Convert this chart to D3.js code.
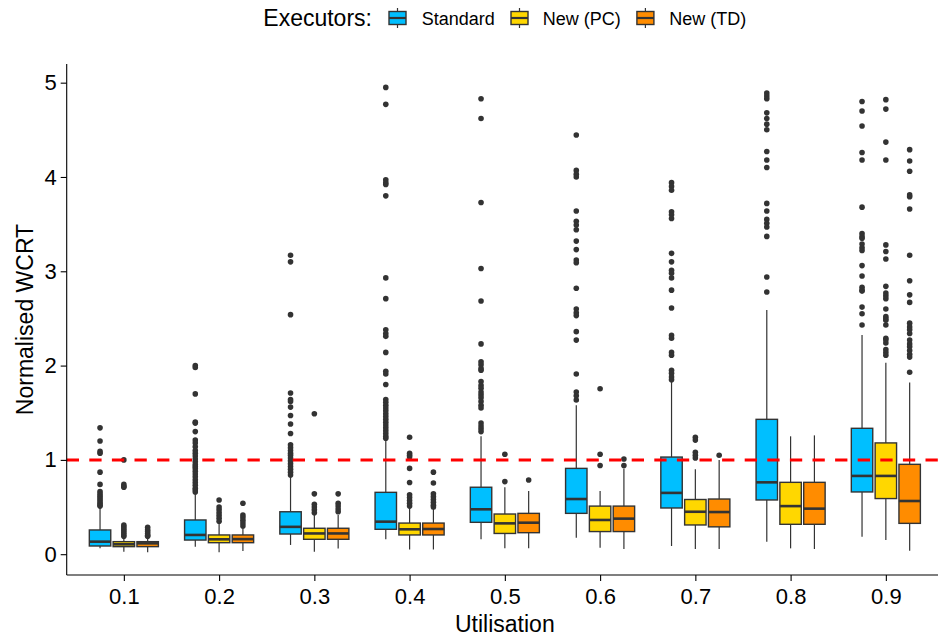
<!DOCTYPE html>
<html><head><meta charset="utf-8">
<script src="https://cdn.jsdelivr.net/npm/d3@7"></script>
<style>
body{margin:0;background:#fff}
svg{display:block}
text{font-family:"Liberation Sans",Arial,Helvetica,sans-serif;fill:#000}
</style>
</head><body>
<svg id="c" width="938" height="637"></svg>
<script>
// ---------- data ----------
const categories = ["0.1","0.2","0.3","0.4","0.5","0.6","0.7","0.8","0.9"];
const executors = ["Standard","New (PC)","New (TD)"];
const executorColors = ["#00BFFF","#FFD700","#FF8C00"];
const yTicks = [0,1,2,3,4,5];
const threshold = 1;

const standardLow    = [0.063,0.080,0.098,0.158,0.158,0.175,0.087,0.133,0.186];
const standardQ1     = [0.087,0.150,0.214,0.264,0.338,0.433,0.490,0.575,0.660];
const standardMedian = [0.133,0.204,0.290,0.345,0.476,0.585,0.650,0.762,0.830];
const standardQ3     = [0.257,0.363,0.450,0.656,0.710,0.910,1.030,1.430,1.335];
const standardHigh   = [0.500,0.640,0.820,1.210,1.250,1.580,1.830,2.590,2.325];
const standardOutliers = [
  [1.34,1.20,1.09,1.07,0.87,0.74,0.665,0.64,0.62,0.60,0.58,0.56,0.54,0.52,0.51],
  [2.00,1.98,1.70,1.40,1.39,1.30,1.21,1.18,1.14,1.10,1.07,1.04,1.01,0.98,0.95,0.93,0.91,0.88,0.85,0.82,0.79,0.76,0.73,0.70,0.68,0.66],
  [3.17,3.10,2.54,1.71,1.64,1.62,1.56,1.47,1.38,1.28,1.16,1.13,1.10,1.07,1.05,1.02,0.99,0.96,0.93,0.90,0.87,0.84],
  [4.95,4.77,3.97,3.94,3.92,3.80,2.93,2.71,2.38,2.34,2.31,2.14,1.94,1.91,1.80,1.64,1.61,1.58,1.55,1.52,1.49,1.46,1.43,1.40,1.37,1.34,1.31,1.28,1.25,1.23],
  [4.83,4.62,3.73,3.03,2.685,2.23,2.04,2.01,1.97,1.95,1.83,1.79,1.76,1.72,1.69,1.66,1.62,1.58,1.55,1.39,1.36,1.33,1.30],
  [4.445,4.07,4.03,4.00,3.64,3.53,3.49,3.44,3.32,3.23,3.12,3.09,2.82,2.60,2.56,2.53,2.36,2.27,1.91,1.72,1.68,1.635],
  [3.94,3.90,3.86,3.63,3.60,3.56,3.19,3.10,3.01,2.98,2.93,2.80,2.61,2.32,2.29,2.14,2.11,1.95,1.92,1.88,1.85],
  [4.89,4.86,4.83,4.68,4.62,4.56,4.50,4.27,4.18,4.10,3.72,3.64,3.55,3.51,3.47,3.37,2.94,2.78],
  [4.80,4.70,4.54,4.26,4.18,3.68,3.40,3.37,3.35,3.29,3.25,3.22,3.06,2.95,2.83,2.80,2.79,2.62,2.55,2.43]
];

const pcLow    = [0.027,0.020,0.027,0.050,0.062,0.069,0.055,0.062,0.150];
const pcQ1     = [0.080,0.122,0.158,0.204,0.220,0.240,0.310,0.317,0.590];
const pcMedian = [0.105,0.158,0.220,0.264,0.327,0.363,0.450,0.510,0.830];
const pcQ3     = [0.133,0.204,0.275,0.330,0.426,0.510,0.580,0.762,1.180];
const pcHigh   = [0.170,0.330,0.415,0.490,0.710,0.670,0.900,1.250,2.030];
const pcOutliers = [
  [1.00,0.74,0.72,0.71,0.31,0.29,0.27,0.25,0.23,0.21,0.19],
  [0.575,0.50,0.47,0.44,0.41,0.38,0.35],
  [1.49,0.64,0.53,0.50,0.47,0.44],
  [1.24,1.07,1.05,1.03,0.91,0.76,0.63,0.60,0.57,0.54,0.51],
  [1.06,0.77],
  [1.755,1.06,0.94],
  [1.24,1.21,1.08,1.05,1.02],
  [],
  [4.82,4.72,4.37,4.18,3.28,3.21,3.13,2.84,2.77,2.74,2.71,2.60,2.52,2.50,2.48,2.43,2.29,2.27,2.24,2.17,2.14,2.11]
];

const tdLow    = [0.020,0.034,0.060,0.050,0.062,0.055,0.055,0.055,0.037];
const tdQ1     = [0.080,0.122,0.158,0.204,0.228,0.240,0.290,0.317,0.327];
const tdMedian = [0.115,0.160,0.220,0.267,0.334,0.377,0.447,0.483,0.564];
const tdQ3     = [0.133,0.204,0.275,0.330,0.433,0.510,0.585,0.762,0.953];
const tdHigh   = [0.180,0.290,0.415,0.500,0.670,0.910,1.000,1.260,1.820];
const tdOutliers = [
  [0.285,0.26,0.24,0.22,0.20,0.19],
  [0.54,0.415,0.39,0.36,0.33,0.30],
  [0.64,0.54,0.51,0.48,0.45],
  [0.87,0.755,0.64,0.61,0.58,0.55,0.52,0.50],
  [0.787],
  [1.01,0.94],
  [1.05],
  [],
  [4.29,4.17,4.06,3.81,3.79,3.66,3.17,2.90,2.75,2.67,2.45,2.41,2.38,2.34,2.27,2.23,2.20,2.16,2.12,2.09,1.93]
];

(function(){
// ---------- assemble ----------
const seriesStats = [
  {low:standardLow,q1:standardQ1,med:standardMedian,q3:standardQ3,high:standardHigh,out:standardOutliers},
  {low:pcLow,q1:pcQ1,med:pcMedian,q3:pcQ3,high:pcHigh,out:pcOutliers},
  {low:tdLow,q1:tdQ1,med:tdMedian,q3:tdQ3,high:tdHigh,out:tdOutliers}
];
const boxes = [];
categories.forEach((c, ci) => {
  executors.forEach((e, ei) => {
    const s = seriesStats[ei];
    boxes.push({cat:c, exec:e, color:executorColors[ei],
      low:s.low[ci], q1:s.q1[ci], med:s.med[ci], q3:s.q3[ci], high:s.high[ci], out:s.out[ci]});
  });
});

// ---------- layout ----------
const svg = d3.select("#c");
const pLeft = 66.7, pRight = 943, pTop = 64, pBottom = 575;

const x = d3.scalePoint().domain(categories).range([pLeft, pRight]).padding(0.6);
const step = x.step();
const dodge = d3.scaleBand().domain(executors).range([-0.375*step, 0.375*step]);
const boxW = dodge.bandwidth() * 0.9;
const y = d3.scaleLinear().domain([-0.2206, 5.198]).range([pBottom, pTop]);

const stroke = "#333333";
const plot = svg.append("g");

const g = plot.selectAll("g.box").data(boxes).join("g").attr("class","box")
  .attr("transform", d => `translate(${x(d.cat) + dodge(d.exec) + dodge.bandwidth()/2},0)`);

g.selectAll("circle").data(d => d.out).join("circle")
  .attr("cx", 0).attr("cy", v => y(v)).attr("r", 2.8).attr("fill", "#333333");
g.append("line").attr("x1",0).attr("x2",0).attr("y1", d => y(d.q3)).attr("y2", d => y(d.high))
  .attr("stroke", stroke).attr("stroke-width", 1.2);
g.append("line").attr("x1",0).attr("x2",0).attr("y1", d => y(d.q1)).attr("y2", d => y(d.low))
  .attr("stroke", stroke).attr("stroke-width", 1.2);
g.append("rect").attr("x", -boxW/2).attr("width", boxW)
  .attr("y", d => y(d.q3)).attr("height", d => y(d.q1) - y(d.q3))
  .attr("fill", d => d.color).attr("stroke", stroke).attr("stroke-width", 1.4);
g.append("line").attr("x1", -boxW/2).attr("x2", boxW/2)
  .attr("y1", d => y(d.med)).attr("y2", d => y(d.med))
  .attr("stroke", stroke).attr("stroke-width", 2.6);

svg.append("line").attr("x1", pLeft).attr("x2", pRight)
  .attr("y1", y(threshold)).attr("y2", y(threshold))
  .attr("stroke", "#FF0000").attr("stroke-width", 3).attr("stroke-dasharray", "12.3,10.3");

const xAxis = svg.append("g").attr("transform", `translate(0,${pBottom})`)
  .call(d3.axisBottom(x).tickSizeOuter(0).tickSize(6).tickPadding(7));
const yAxis = svg.append("g").attr("transform", `translate(${pLeft},0)`)
  .call(d3.axisLeft(y).tickValues(yTicks).tickFormat(d3.format("d")).tickSizeOuter(0).tickSize(6).tickPadding(4));
[xAxis, yAxis].forEach(a => {
  a.select(".domain").attr("stroke", "#000").attr("stroke-width", 1.1);
  a.selectAll(".tick line").attr("stroke", "#000").attr("stroke-width", 1.1);
  a.selectAll(".tick text").attr("font-size", 22).attr("fill", "#000")
    .attr("font-family", '"Liberation Sans", Arial, sans-serif');
});
yAxis.select(".domain").attr("d", `M0,${pTop}V${pBottom}`);
xAxis.select(".domain").attr("d", `M${pLeft},0H${pRight}`);

svg.append("text").attr("x", (pLeft + pRight)/2).attr("y", 631.5).attr("text-anchor", "middle")
  .attr("font-size", 23).text("Utilisation");
svg.append("text").attr("transform", `translate(32.5,${(pTop+pBottom)/2}) rotate(-90)`)
  .attr("text-anchor", "middle").attr("font-size", 23).text("Normalised WCRT");

const legend = svg.append("g");
legend.append("text").attr("x", 263.3).attr("y", 26.3).attr("font-size", 23).text("Executors:");
const legendX = [397.5, 519.5, 645.4];
const legendLabelX = [421.7, 542.7, 669.3];
executors.forEach((e, i) => {
  const k = legend.append("g").attr("transform", `translate(${legendX[i]},18)`);
  k.append("line").attr("x1",0).attr("x2",0).attr("y1",-10).attr("y2",10).attr("stroke", stroke).attr("stroke-width", 1.2);
  k.append("rect").attr("x",-8.5).attr("y",-6.5).attr("width",17).attr("height",13)
    .attr("fill", executorColors[i]).attr("stroke", stroke).attr("stroke-width", 1.4);
  k.append("line").attr("x1",-8.5).attr("x2",8.5).attr("y1",0).attr("y2",0).attr("stroke", stroke).attr("stroke-width", 2.2);
  legend.append("text").attr("x", legendLabelX[i]).attr("y", 24.5).attr("font-size", 18).text(e);
});
})();
</script>
</body></html>
